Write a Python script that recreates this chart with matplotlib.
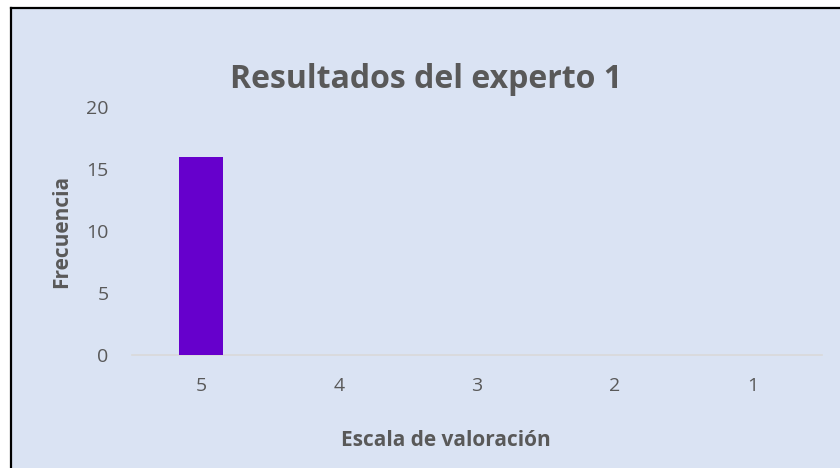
import matplotlib.pyplot as plt
from matplotlib.patches import Rectangle
from matplotlib.lines import Line2D

categorias = ['5', '4', '3', '2', '1']
frecuencia = [16, 0, 0, 0, 0]

bg = '#DAE3F3'
gris = '#595959'

plt.rcParams['font.family'] = ['Open Sans', 'DejaVu Sans']

fig = plt.figure(figsize=(8.4, 4.68), dpi=100)
fig.patch.set_facecolor('white')

# chart area with black border on left/top (cropped screenshot)
x0 = 11 / 840
y1 = 1 - 8 / 468
fig.add_artist(Rectangle((x0, 0), 1 - x0, y1, transform=fig.transFigure,
                         facecolor=bg, edgecolor='none', zorder=-5))
fig.add_artist(Line2D([x0, x0], [0, y1], transform=fig.transFigure, color='black', lw=1.6, zorder=-4))
fig.add_artist(Line2D([x0, 1], [y1, y1], transform=fig.transFigure, color='black', lw=1.6, zorder=-4))

ax = fig.add_axes([132 / 840, 1 - 355 / 468, (822 - 132) / 840, (355 - 107) / 468])
ax.set_facecolor('none')

pos = range(len(categorias))
ax.bar(pos, frecuencia, width=0.32, color='#6600CC', zorder=3)

ax.set_xlim(-0.5, len(categorias) - 0.5)
ax.set_ylim(0, 20)
ax.set_yticks([0, 5, 10, 15, 20])
ax.set_xticks(list(pos))
ax.set_xticklabels(categorias)

for s in ['top', 'right', 'left']:
    ax.spines[s].set_visible(False)
ax.spines['bottom'].set_color('#D9D9D9')
ax.spines['bottom'].set_linewidth(1.2)
ax.tick_params(axis='both', length=0, labelsize=14, colors=gris)
ax.tick_params(axis='x', pad=16)
ax.tick_params(axis='y', pad=17)

ax.set_xlabel('Escala de valoración', fontsize=15, fontweight='bold', color=gris, va='center')
ax.xaxis.set_label_coords(0.5 - (132 + 690 / 2 - 446) / 690, (355 - 440) / 248)
ax.set_ylabel('Frecuencia', fontsize=15, fontweight='bold', color=gris, va='center')
ax.yaxis.set_label_coords((62 - 132) / 690, (355 - 231) / 248)

fig.text(426 / 840, 1 - 79 / 468, 'Resultados del experto 1', ha='center', va='center',
         fontsize=23, fontweight='bold', color=gris)

fig.savefig('out.png', dpi=100, facecolor=fig.get_facecolor())
